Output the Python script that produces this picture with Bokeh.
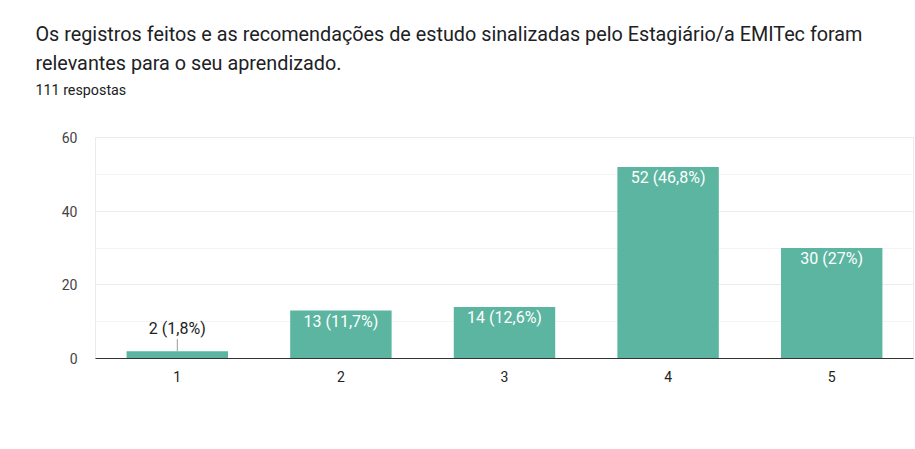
from bokeh.plotting import figure
from bokeh.models import ColumnDataSource, Title, Range1d, FixedTicker
from bokeh.embed import file_html
from bokeh.resources import INLINE
from bokeh.core.properties import value

categories = ["1", "2", "3", "4", "5"]
counts = [2, 13, 14, 52, 30]
pct_labels = ["2 (1,8%)", "13 (11,7%)", "14 (12,6%)", "52 (46,8%)", "30 (27%)"]
title_text = "Os registros feitos e as recomendações de estudo sinalizadas pelo Estagiário/a EMITec foram\nrelevantes para o seu aprendizado."
subtitle_text = "111 respostas"
y_ticks = [0, 20, 40, 60]
y_minor = [10, 30, 50]

FONT = "Roboto"
BAR = "#5bb5a0"

W, H = 915, 449
p = figure(width=W, height=H, x_range=categories, y_range=Range1d(0, 60),
           output_backend="svg", toolbar_location=None,
           min_border_left=95, min_border_right=2, min_border_top=137, min_border_bottom=91)

# invisible spacer between subtitle and plot area
p.add_layout(Title(text=" ", text_font=FONT, text_font_size="14px",
                   align="left", offset=-60, standoff=22), "above")
p.add_layout(Title(text=subtitle_text, text_font=FONT, text_font_size="14.3px",
                   text_font_style="normal", text_color="#202124",
                   align="left", offset=-60, standoff=0), "above")
p.add_layout(Title(text=title_text, text_font=FONT, text_font_size="19.8px",
                   text_font_style="normal", text_color="#202124", text_line_height=1.28,
                   align="left", offset=-60, standoff=8), "above")

frame_h = 221.0
px_per_unit = frame_h / 60.0

inside = [c * px_per_unit >= 20 for c in counts]
src_in = ColumnDataSource(dict(x=[c for c, i in zip(categories, inside) if i],
                               y=[v for v, i in zip(counts, inside) if i],
                               t=[t for t, i in zip(pct_labels, inside) if i]))
src_out = ColumnDataSource(dict(x=[c for c, i in zip(categories, inside) if not i],
                                y=[v for v, i in zip(counts, inside) if not i],
                                y1=[v + 12.0 / px_per_unit for v, i in zip(counts, inside) if not i],
                                t=[t for t, i in zip(pct_labels, inside) if not i]))

src = ColumnDataSource(dict(x=categories, top=counts))
p.vbar(x="x", top="top", width=0.62, source=src, fill_color=BAR, line_color=None)

p.text(x="x", y="y", text="t", source=src_in, text_align="center", text_baseline="top",
       y_offset=1, text_color="white", text_font=value(FONT), text_font_size="16px")
p.segment(x0="x", y0="y", x1="x", y1="y1", source=src_out, line_color="#999999", line_width=1)
p.text(x="x", y="y1", text="t", source=src_out, text_align="center", text_baseline="bottom",
       y_offset=-1, text_color="#222222", text_font=value(FONT), text_font_size="16px")

p.yaxis.ticker = FixedTicker(ticks=y_ticks, minor_ticks=y_minor)
p.yaxis.axis_line_color = None
p.yaxis.major_tick_line_color = None
p.yaxis.minor_tick_line_color = None
p.yaxis.major_label_text_font = FONT
p.yaxis.major_label_text_font_size = "14px"
p.yaxis.major_label_text_color = "#444444"
p.yaxis.major_label_standoff = 12

p.xaxis.axis_line_color = "#333333"
p.xaxis.axis_line_width = 1
p.xaxis.major_tick_line_color = None
p.xaxis.minor_tick_line_color = None
p.xaxis.major_label_text_font = FONT
p.xaxis.major_label_text_font_size = "14px"
p.xaxis.major_label_text_color = "#222222"
p.xaxis.major_label_standoff = 6

p.xgrid.grid_line_color = None
p.ygrid.grid_line_color = "#ebebeb"
p.ygrid.minor_grid_line_color = "#f4f4f4"
p.outline_line_color = "#ebebeb"

open("out.html", "w").write(file_html(p, INLINE))
